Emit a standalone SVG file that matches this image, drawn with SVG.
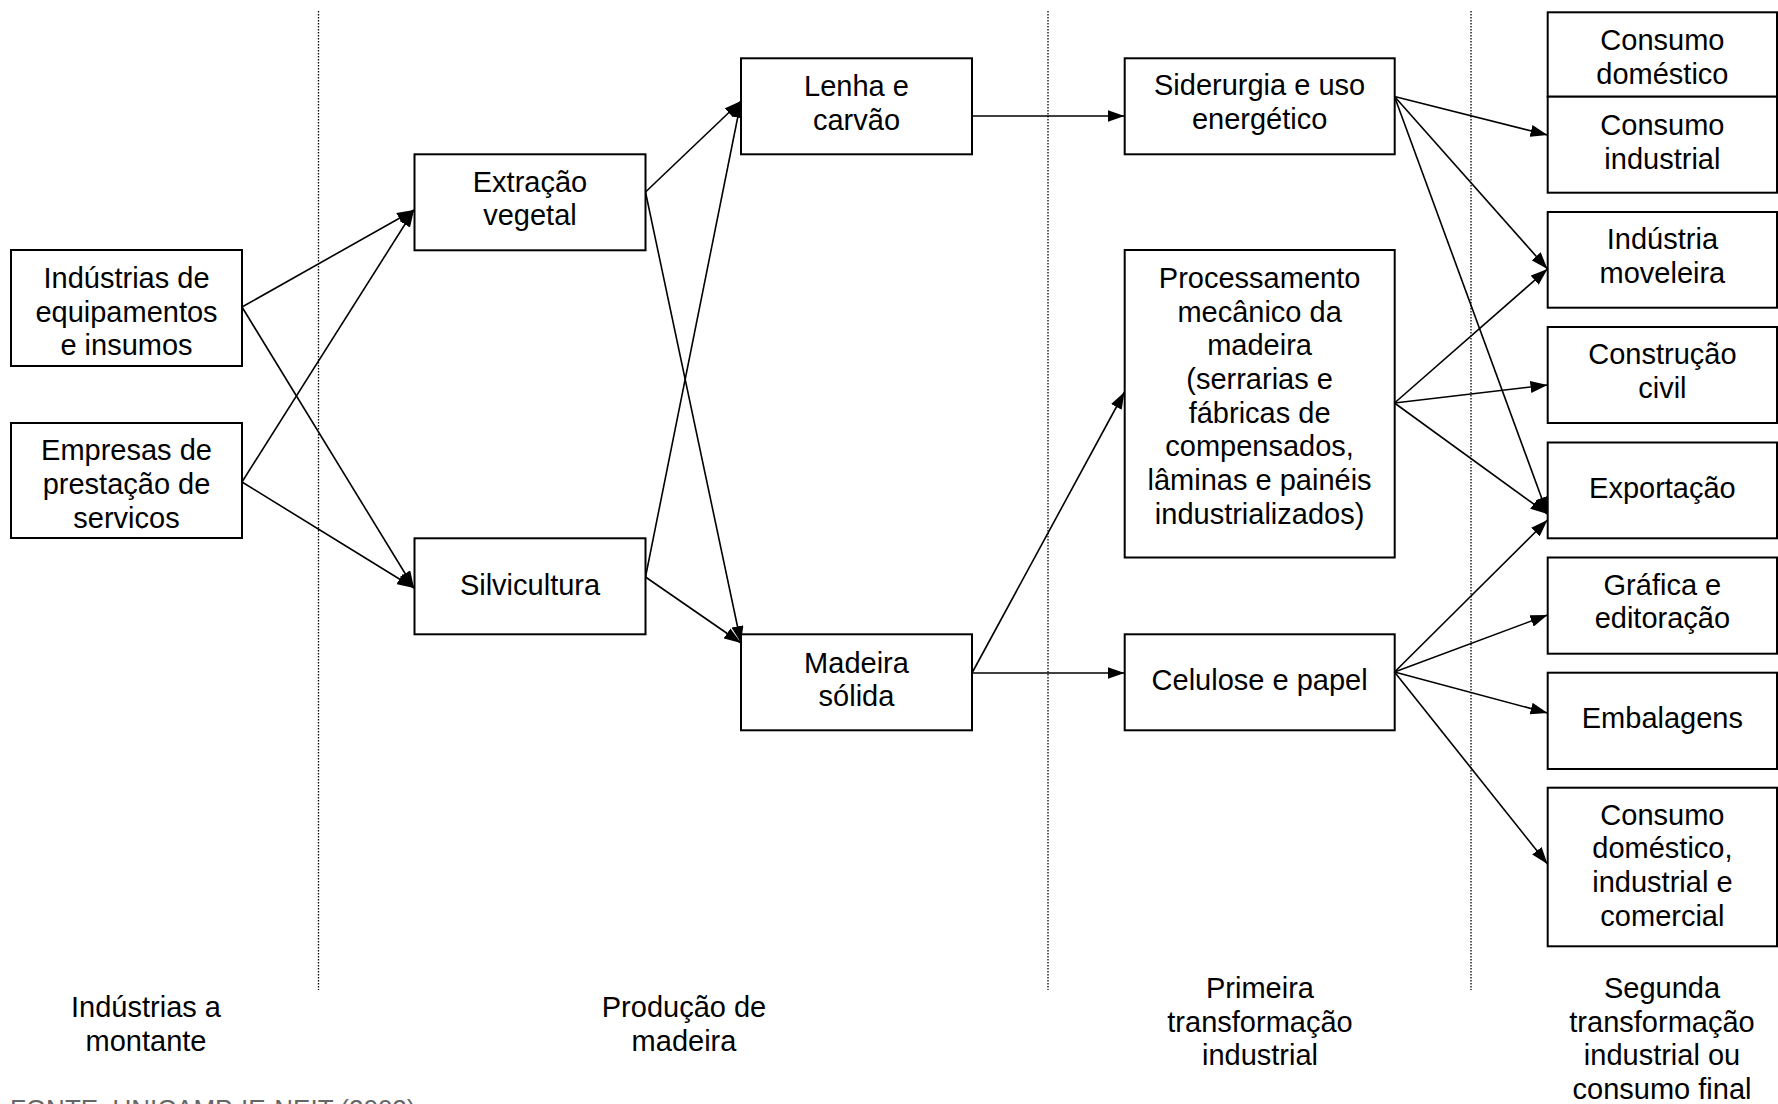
<svg xmlns="http://www.w3.org/2000/svg" width="1778" height="1104" viewBox="0 0 1778 1104">
<style>
.box{fill:#fff;stroke:#000;stroke-width:2}
.t{font-family:"Liberation Sans",Arial,sans-serif;font-size:29px;text-anchor:middle;fill:#000}
.c{stroke:#000;stroke-width:1.6;fill:none;marker-end:url(#ah)}
.div{stroke:#000;stroke-width:1.3;stroke-dasharray:1.5 1.5;fill:none}
.src{font-family:"Liberation Sans",Arial,sans-serif;font-size:26px;fill:#666}
</style>
<defs>
<marker id="ah" viewBox="0 0 17 12" refX="17" refY="6" markerWidth="17" markerHeight="12" markerUnits="userSpaceOnUse" orient="auto">
<path d="M0,0 L17,6 L0,12 z" fill="#000"/>
</marker>
<clipPath id="clipB"><rect x="0" y="400" width="260" height="128.5"/></clipPath>
</defs>
<rect width="1778" height="1104" fill="#fff"/>
<g id="dividers">
<line class="div" x1="318.5" y1="11" x2="318.5" y2="990"/>
<line class="div" x1="1048" y1="11" x2="1048" y2="990"/>
<line class="div" x1="1471" y1="11" x2="1471" y2="990"/>
</g>
<g id="connectors">
<line class="c" x1="242" y1="307" x2="414" y2="210"/>
<line class="c" x1="242" y1="307" x2="414" y2="588"/>
<line class="c" x1="242" y1="482" x2="414" y2="210"/>
<line class="c" x1="242" y1="482" x2="414" y2="588"/>
<line class="c" x1="645.5" y1="192" x2="741" y2="101"/>
<line class="c" x1="645.5" y1="192" x2="741" y2="643"/>
<line class="c" x1="645.5" y1="577" x2="741" y2="101"/>
<line class="c" x1="645.5" y1="577" x2="741" y2="643"/>
<line class="c" x1="972" y1="116" x2="1124.5" y2="116"/>
<line class="c" x1="972" y1="673" x2="1124.5" y2="392"/>
<line class="c" x1="972" y1="673" x2="1124.5" y2="673"/>
<line class="c" x1="1394.5" y1="96.5" x2="1547.5" y2="135"/>
<line class="c" x1="1394.5" y1="96.5" x2="1547.5" y2="269"/>
<line class="c" x1="1394.5" y1="96.5" x2="1547.5" y2="514"/>
<line class="c" x1="1394.5" y1="403" x2="1547.5" y2="269"/>
<line class="c" x1="1394.5" y1="403" x2="1547.5" y2="385"/>
<line class="c" x1="1394.5" y1="403" x2="1547.5" y2="514"/>
<line class="c" x1="1394.5" y1="672" x2="1547.5" y2="520"/>
<line class="c" x1="1394.5" y1="672" x2="1547.5" y2="615"/>
<line class="c" x1="1394.5" y1="672" x2="1547.5" y2="713"/>
<line class="c" x1="1394.5" y1="672" x2="1547.5" y2="864"/>
</g>
<g id="n-equip">
<rect class="box" x="11" y="250" width="231" height="116"/>
<text class="t"><tspan x="126.5" y="288.3">Indústrias de</tspan><tspan x="126.5" y="321.7">equipamentos</tspan><tspan x="126.5" y="355">e insumos</tspan></text>
</g>
<g id="n-servicos">
<rect class="box" x="11" y="423" width="231" height="115"/>
<text class="t" clip-path="url(#clipB)"><tspan x="126.5" y="460">Empresas de</tspan><tspan x="126.5" y="494">prestação de</tspan><tspan x="126.5" y="528">serviços</tspan></text>
</g>
<g id="n-extracao">
<rect class="box" x="414.5" y="154.3" width="231" height="96"/>
<text class="t"><tspan x="530" y="191.7">Extração</tspan><tspan x="530" y="225">vegetal</tspan></text>
</g>
<g id="n-silvicultura">
<rect class="box" x="414.5" y="538.3" width="231" height="96"/>
<text class="t" x="530" y="595">Silvicultura</text>
</g>
<g id="n-lenha">
<rect class="box" x="741" y="58.3" width="231" height="96"/>
<text class="t"><tspan x="856.5" y="96">Lenha e</tspan><tspan x="856.5" y="130">carvão</tspan></text>
</g>
<g id="n-madeira">
<rect class="box" x="741" y="634.3" width="231" height="96"/>
<text class="t"><tspan x="856.5" y="673.3">Madeira</tspan><tspan x="856.5" y="706">sólida</tspan></text>
</g>
<g id="n-siderurgia">
<rect class="box" x="1124.7" y="58.3" width="270" height="96"/>
<text class="t"><tspan x="1259.6" y="95">Siderurgia e uso</tspan><tspan x="1259.6" y="129">energético</tspan></text>
</g>
<g id="n-processamento">
<rect class="box" x="1124.7" y="250" width="270" height="307.5"/>
<text class="t"><tspan x="1259.6" y="288.3">Processamento</tspan><tspan x="1259.6" y="321.7">mecânico da</tspan><tspan x="1259.6" y="355">madeira</tspan><tspan x="1259.6" y="389">(serrarias e</tspan><tspan x="1259.6" y="422.5">fábricas de</tspan><tspan x="1259.6" y="456">compensados,</tspan><tspan x="1259.6" y="490">lâminas e painéis</tspan><tspan x="1259.6" y="524">industrializados)</tspan></text>
</g>
<g id="n-celulose">
<rect class="box" x="1124.7" y="634.3" width="270" height="96"/>
<text class="t" x="1259.6" y="690">Celulose e papel</text>
</g>
<g id="n-consumo-domestico">
<rect class="box" x="1547.7" y="12.3" width="229.3" height="84.4"/>
<text class="t"><tspan x="1662.4" y="50">Consumo</tspan><tspan x="1662.4" y="83.5">doméstico</tspan></text>
</g>
<g id="n-consumo-industrial">
<rect class="box" x="1547.7" y="96.7" width="229.3" height="96"/>
<text class="t"><tspan x="1662.4" y="135">Consumo</tspan><tspan x="1662.4" y="168.5">industrial</tspan></text>
</g>
<g id="n-moveleira">
<rect class="box" x="1547.7" y="212" width="229.3" height="95.7"/>
<text class="t"><tspan x="1662.4" y="248.5">Indústria</tspan><tspan x="1662.4" y="283">moveleira</tspan></text>
</g>
<g id="n-construcao">
<rect class="box" x="1547.7" y="327" width="229.3" height="96"/>
<text class="t"><tspan x="1662.4" y="364.3">Construção</tspan><tspan x="1662.4" y="398">civil</tspan></text>
</g>
<g id="n-exportacao">
<rect class="box" x="1547.7" y="442.5" width="229.3" height="95.8"/>
<text class="t" x="1662.4" y="498.3">Exportação</text>
</g>
<g id="n-grafica">
<rect class="box" x="1547.7" y="557.5" width="229.3" height="96.2"/>
<text class="t"><tspan x="1662.4" y="595">Gráfica e</tspan><tspan x="1662.4" y="628.3">editoração</tspan></text>
</g>
<g id="n-embalagens">
<rect class="box" x="1547.7" y="672.7" width="229.3" height="96.3"/>
<text class="t" x="1662.4" y="728.3">Embalagens</text>
</g>
<g id="n-consumo-geral">
<rect class="box" x="1547.7" y="787.7" width="229.3" height="158.6"/>
<text class="t"><tspan x="1662.4" y="825">Consumo</tspan><tspan x="1662.4" y="858.3">doméstico,</tspan><tspan x="1662.4" y="891.7">industrial e</tspan><tspan x="1662.4" y="925.5">comercial</tspan></text>
</g>
<g id="stage-labels">
<text class="t"><tspan x="146" y="1017">Indústrias a</tspan><tspan x="146" y="1050.5">montante</tspan></text>
<text class="t"><tspan x="684" y="1017">Produção de</tspan><tspan x="684" y="1050.5">madeira</tspan></text>
<text class="t"><tspan x="1260" y="998">Primeira</tspan><tspan x="1260" y="1031.5">transformação</tspan><tspan x="1260" y="1065">industrial</tspan></text>
<text class="t"><tspan x="1662" y="998">Segunda</tspan><tspan x="1662" y="1031.5">transformação</tspan><tspan x="1662" y="1065">industrial ou</tspan><tspan x="1662" y="1098.5">consumo final</tspan></text>
</g>
<text class="src" x="10" y="1118">FONTE: UNICAMP-IE-NEIT (2002)</text>
</svg>
